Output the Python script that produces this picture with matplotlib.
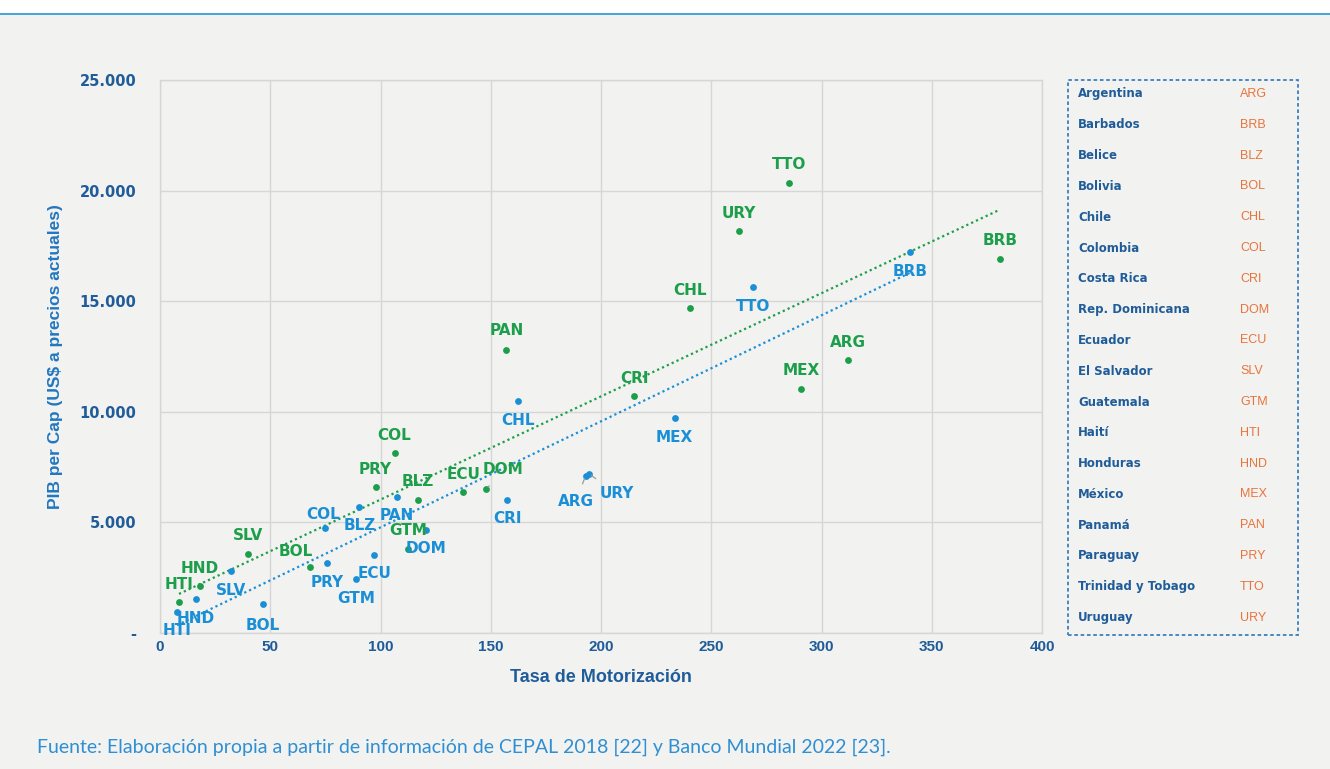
import matplotlib
matplotlib.use("Agg")
import matplotlib.pyplot as plt
import matplotlib.patches as mpatches
import numpy as np

# Países en el orden del recuadro de la derecha
paises = ["Argentina", "Barbados", "Belice", "Bolivia", "Chile", "Colombia",
          "Costa Rica", "Rep. Dominicana", "Ecuador", "El Salvador",
          "Guatemala", "Haití", "Honduras", "México", "Panamá", "Paraguay",
          "Trinidad y Tobago", "Uruguay"]
codigos = ["ARG", "BRB", "BLZ", "BOL", "CHL", "COL", "CRI", "DOM", "ECU",
           "SLV", "GTM", "HTI", "HND", "MEX", "PAN", "PRY", "TTO", "URY"]

# Serie verde: tasa de motorización y PIB per cápita
motor_verde = [311.9, 381.0, 117.0, 68.0, 240.5, 106.4, 215.1, 148.0, 137.6,
               39.8, 112.6, 8.6, 18.0, 290.8, 157.1, 97.8, 285.1, 262.6]
pib_verde = [12330, 16920, 6030, 2970, 14680, 8120, 10700, 6500, 6360,
             3590, 3800, 1400, 2120, 11040, 12790, 6600, 20350, 18160]

# Serie azul
motor_azul = [193.0, 340.1, 90.4, 46.6, 162.4, 74.8, 157.5, 120.6, 97.2,
              32.1, 88.9, 7.7, 16.3, 233.4, 107.3, 75.7, 268.8, 194.5]
pib_azul = [7100, 17210, 5700, 1300, 10470, 4730, 6030, 4660, 3540,
            2790, 2430, 950, 1520, 9700, 6160, 3160, 15640, 7200]

x_ticks = [0, 50, 100, 150, 200, 250, 300, 350, 400]
y_ticks = [0, 5000, 10000, 15000, 20000, 25000]
y_tick_labels = ["-", "5.000", "10.000", "15.000", "20.000", "25.000"]

VERDE = "#1c9e4a"
AZUL = "#1b8fd6"
AZUL_OSCURO = "#1f5c99"
NARANJA = "#e8743b"
FONDO = "#f2f2f0"
GRIS = "#d6d6d6"

# desplazamiento de cada etiqueta respecto a su punto (px); por defecto
# verde encima, azul debajo
off_verde = {c: (0, 18) for c in codigos}
off_verde.update({"DOM": (17, 20), "BOL": (-14, 16), "PAN": (0, 20)})
off_azul = {c: (0, -19) for c in codigos}
off_azul.update({"COL": (-2, 14), "ARG": (-10, -26), "URY": (28, -20),
                 "BOL": (0, -21)})
con_guia = {("verde", "DOM"), ("azul", "ARG"), ("azul", "URY")}

W, H = 1330, 769
fig = plt.figure(figsize=(W / 100, H / 100), dpi=100, facecolor=FONDO)

# franja blanca y línea azul superior
fig.patches.append(mpatches.Rectangle((0, 1 - 13 / H), 1, 13 / H,
                                      transform=fig.transFigure,
                                      facecolor="white", edgecolor="none"))
fig.patches.append(mpatches.Rectangle((0, 1 - 15 / H), 1, 2.5 / H,
                                      transform=fig.transFigure,
                                      facecolor="#4aa6d8", edgecolor="none"))

ax = fig.add_axes([160 / W, 1 - 633 / H, 882 / W, 553 / H])
ax.set_facecolor(FONDO)
ax.set_xlim(0, 400)
ax.set_ylim(0, 25000)
ax.set_xticks(x_ticks)
ax.set_yticks(y_ticks)
ax.set_yticklabels(y_tick_labels)
ax.grid(True, color=GRIS, linewidth=1)
ax.set_axisbelow(True)
for s in ax.spines.values():
    s.set_color(GRIS)
    s.set_linewidth(1)
ax.tick_params(length=0)
ax.tick_params(axis="y", pad=17, labelcolor=AZUL_OSCURO, labelsize=10.5)
ax.tick_params(axis="x", pad=5, labelcolor=AZUL_OSCURO, labelsize=11)
for t in ax.get_yticklabels():
    t.set_fontweight("bold")
    t.set_family("DejaVu Sans")
for t in ax.get_xticklabels():
    t.set_fontweight("bold")
    t.set_family("Liberation Sans")

ax.set_xlabel("Tasa de Motorización", fontsize=13, fontweight="bold",
              color=AZUL_OSCURO, family="Liberation Sans", labelpad=11)
ax.set_ylabel("PIB per Cap (US$ a precios actuales)", fontsize=12.5,
              fontweight="bold", color="#2277c0", family="Liberation Sans",
              labelpad=12)

# líneas de tendencia lineales
for xs, ys, col in [(motor_verde, pib_verde, VERDE), (motor_azul, pib_azul, AZUL)]:
    xs = np.array(xs)
    m, b = np.polyfit(xs, ys, 1)
    xl = np.array([xs.min(), xs.max()])
    ax.plot(xl, m * xl + b, color=col, linestyle=(0, (1, 1.4)), linewidth=1.6,
            zorder=2)

ax.scatter(motor_verde, pib_verde, s=24, color=VERDE, zorder=3, linewidths=0)
ax.scatter(motor_azul, pib_azul, s=24, color=AZUL, zorder=3, linewidths=0)

for serie, xs, ys, col, offs in [("verde", motor_verde, pib_verde, VERDE, off_verde),
                                 ("azul", motor_azul, pib_azul, AZUL, off_azul)]:
    for c, x, y in zip(codigos, xs, ys):
        kw = {}
        if (serie, c) in con_guia:
            kw["arrowprops"] = dict(arrowstyle="-", color="#9a9a9a", lw=0.9,
                                    shrinkA=6, shrinkB=2)
        ax.annotate(c, (x, y), xytext=offs[c], textcoords="offset pixels",
                    ha="center", va="center", fontsize=11, fontweight="bold",
                    color=col, zorder=4, **kw)

# recuadro con los nombres de los países
fig.patches.append(mpatches.Rectangle((1068 / W, 1 - 635 / H), 230 / W, 555 / H,
                                      transform=fig.transFigure, fill=False,
                                      edgecolor="#3b7fc0", linewidth=1.3,
                                      linestyle=(0, (2, 1.5))))
for i, (p, c) in enumerate(zip(paises, codigos)):
    yy = 1 - (94 + i * 30.8) / H
    fig.text(1078 / W, yy, p, ha="left", va="center", fontsize=8.5,
             fontweight="bold", color=AZUL_OSCURO, family="DejaVu Sans")
    fig.text(1240 / W, yy, c, ha="left", va="center", fontsize=9,
             color=NARANJA, family="Liberation Sans")

fig.text(37 / W, 1 - 747 / H,
         "Fuente: Elaboración propia a partir de información de CEPAL 2018 [22] "
         "y Banco Mundial 2022 [23].",
         ha="left", va="center", fontsize=14, color="#2f8fd2",
         family="Lato", fontweight="normal")

fig.savefig("out.png", dpi=100, facecolor=FONDO)
